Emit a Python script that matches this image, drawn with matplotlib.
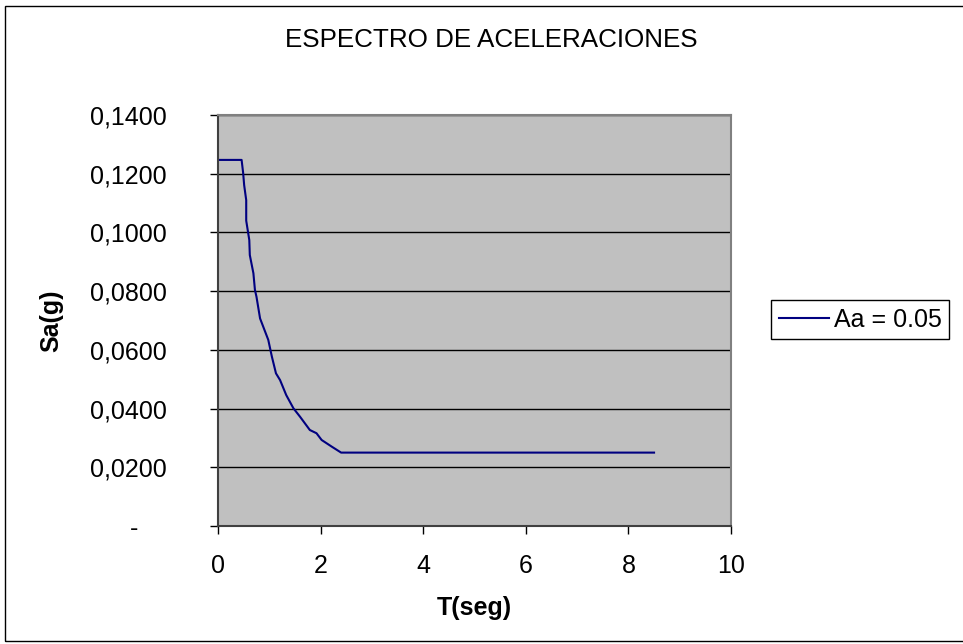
import matplotlib
matplotlib.use("Agg")
import matplotlib.pyplot as plt
from matplotlib.patches import Rectangle
from matplotlib.ticker import FuncFormatter

plt.rcParams['font.family'] = ['Liberation Sans', 'DejaVu Sans']

# periodo T (seg) y aceleracion espectral Sa (g)
periodo = [0.00, 0.46, 0.49, 0.51, 0.55, 0.55, 0.61, 0.62, 0.69, 0.72, 0.75,
           0.82, 0.98, 1.05, 1.13, 1.21, 1.33, 1.47, 1.60, 1.79, 1.92, 2.02,
           2.22, 2.40, 2.70, 8.50]
sa = [0.1247, 0.1247, 0.1203, 0.1161, 0.1110, 0.1040, 0.0974, 0.0923, 0.0861,
      0.0804, 0.0781, 0.0707, 0.0634, 0.0577, 0.0520, 0.0497, 0.0446, 0.0401,
      0.0372, 0.0327, 0.0316, 0.0293, 0.0270, 0.0250, 0.0250, 0.0250]
serie = "Aa = 0.05"

W, H = 963, 644
fig = plt.figure(figsize=(W / 100, H / 100), dpi=100)
ax = fig.add_axes([218 / W, 1 - 526 / H, (731 - 218) / W, (526 - 115) / H])
ax.set_facecolor('#C0C0C0')

ax.plot(periodo, sa, color='#000080', linewidth=1.5, label=serie)

ax.set_xlim(0, 10)
ax.set_ylim(0, 0.14)
ax.set_xticks(range(0, 11, 2))
ax.set_yticks([i * 0.02 for i in range(8)])


def fmt(v, pos):
    if abs(v) < 1e-9:
        return "-\u2007\u2007"
    return f"{v:.4f}".replace('.', ',')


ax.yaxis.set_major_formatter(FuncFormatter(fmt))
ax.grid(axis='y', color='black', linewidth=1)
ax.set_axisbelow(True)

for s in ['top', 'right']:
    ax.spines[s].set_color('#808080')
    ax.spines[s].set_linewidth(1.5)
ax.spines['left'].set_color('#404040')
ax.spines['left'].set_linewidth(1.5)
ax.spines['bottom'].set_color('#404040')
ax.spines['bottom'].set_linewidth(1.5)

ax.tick_params(axis='both', labelsize=18, length=6, width=1, color='black')
ax.tick_params(axis='y', pad=31)
ax.tick_params(axis='x', pad=14)

ax.set_xlabel("T(seg)", fontsize=18, fontweight='bold', labelpad=13)
ax.set_ylabel("Sa(g)", fontsize=18, fontweight='bold', labelpad=19)
fig.text(491 / W, 1 - 40 / H, "ESPECTRO DE ACELERACIONES",
         fontsize=18.7, ha='center', va='center')

leg = ax.legend(loc='center left', bbox_to_anchor=(771 / W, 1 - 319.5 / H),
                bbox_transform=fig.transFigure, fontsize=18, frameon=True,
                fancybox=False, edgecolor='black', framealpha=1,
                handlelength=2.0, handletextpad=0.2, borderpad=0.3,
                borderaxespad=0)
leg.get_frame().set_linewidth(1)

fig.add_artist(Rectangle((5 / W, 3 / H), 1.0, 1 - 9 / H,
                         transform=fig.transFigure, fill=False,
                         edgecolor='black', linewidth=1))

fig.savefig("out.png", dpi=100)
